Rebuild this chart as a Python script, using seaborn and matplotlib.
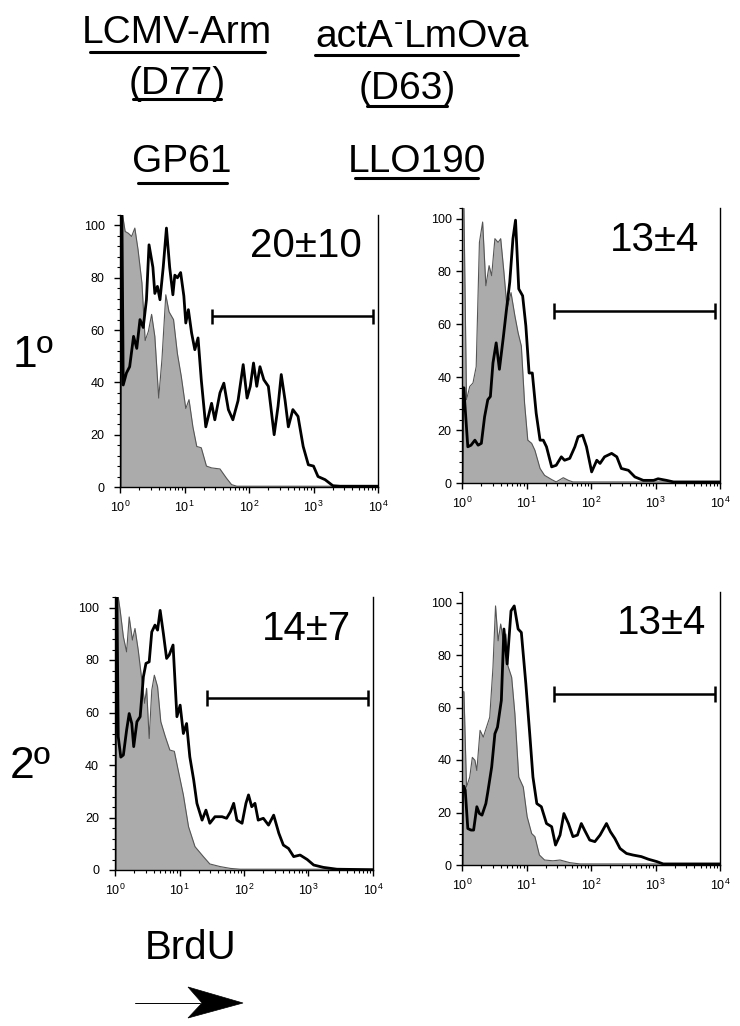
import numpy as np
import pandas as pd
import matplotlib
matplotlib.use('Agg')
import matplotlib.pyplot as plt
import seaborn as sns
from matplotlib.lines import Line2D
from matplotlib.patches import Polygon
from matplotlib.ticker import AutoMinorLocator, LogLocator

# ---------------- data (x = log10 BrdU intensity, y = % of max) ----------------
# top-left: LCMV-Arm GP61, 1o
p1_black_x = [0.00, 0.01, 0.03, 0.05, 0.10, 0.15, 0.21, 0.26, 0.31, 0.36, 0.41, 0.45, 0.51, 0.54, 0.58,
              0.62, 0.67, 0.72, 0.77, 0.82, 0.85, 0.89, 0.94, 0.99, 1.02, 1.06, 1.11, 1.16, 1.21, 1.26,
              1.33, 1.37, 1.42, 1.47, 1.55, 1.61, 1.68, 1.75, 1.83, 1.91, 1.97, 2.02, 2.07, 2.12, 2.17,
              2.23, 2.30, 2.39, 2.45, 2.50, 2.56, 2.61, 2.68, 2.76, 2.84, 2.92, 3.00, 3.07, 3.18, 3.30,
              3.41, 4.00]
p1_black_y = [0, 104, 104, 39, 43.6, 46, 57.6, 53, 64, 61, 71.6, 92.6, 84, 74, 76.7,
              71.6, 84, 99, 84, 73.5, 81, 80, 82, 73, 62.7, 67.8, 58.9, 52.5, 57, 41,
              23, 27, 32, 25.7, 36, 39.7, 29.6, 25.7, 33, 46.8, 34, 38.5, 47.4, 38.5, 46,
              41, 38.5, 20, 30.8, 43, 33, 23, 29.6, 27, 15.5, 8.5, 8, 4, 2.8, 0.5,
              0.3, 0.3]
p1_gray_x = [0.00, 0.01, 0.04, 0.08, 0.13, 0.18, 0.23, 0.28, 0.34, 0.39, 0.44, 0.49, 0.54, 0.60, 0.65,
             0.71, 0.76, 0.83, 0.89, 0.95, 1.02, 1.07, 1.13, 1.19, 1.26, 1.34, 1.42, 1.55, 1.65, 1.73,
             1.81, 4.00]
p1_gray_y = [0, 104, 104, 97.7, 97, 95.8, 99, 90.7, 78, 56, 59.5, 66, 57.6, 34, 48.7,
             73.5, 67, 64, 51, 42.3, 30, 33.4, 23, 15.5, 15, 8, 7.3, 6.9, 3.4, 0.9,
             0.3, 0.3]

# top-right: actA-LmOva LLO190, 1o
p2_black_x = [0.00, 0.01, 0.03, 0.04, 0.09, 0.14, 0.20, 0.25, 0.30, 0.35, 0.40, 0.44, 0.48, 0.53, 0.58,
              0.64, 0.69, 0.74, 0.79, 0.83, 0.88, 0.94, 0.99, 1.04, 1.09, 1.15, 1.21, 1.26, 1.31, 1.39,
              1.46, 1.54, 1.59, 1.67, 1.75, 1.80, 1.87, 1.93, 2.01, 2.09, 2.14, 2.21, 2.32, 2.40, 2.47,
              2.58, 2.68, 2.81, 2.97, 3.04, 3.17, 3.28, 4.00]
p2_black_y = [0, 36, 36, 31.5, 13.7, 14.3, 16.2, 14.3, 15, 25, 31.5, 32.7, 45.4, 53, 43,
              55, 65.7, 75.9, 92.4, 99.4, 73.4, 70.8, 59.4, 41.6, 41.6, 26.4, 16.2, 16.2, 13.7, 6.1,
              6.7, 9.9, 8.6, 9.3, 13.7, 17.5, 18.1, 13.7, 4.2, 8.6, 7.4, 9.9, 11.2, 9.9, 5.5,
              4.8, 2.3, 1, 1, 1.6, 1, 0.4, 0.4]
p2_gray_x = [0.00, 0.005, 0.03, 0.07, 0.12, 0.17, 0.22, 0.27, 0.32, 0.37, 0.42, 0.46, 0.51, 0.56, 0.60,
             0.65, 0.70, 0.76, 0.82, 0.87, 0.92, 0.97, 1.02, 1.08, 1.13, 1.21, 1.28, 1.39, 1.46, 1.57,
             1.65, 1.72, 4.00]
p2_gray_y = [0, 104, 104, 31.5, 36.5, 37.8, 44, 91, 98.7, 74.6, 82.2, 78.4, 92.4, 91, 92.4,
             79.7, 65.7, 72, 63.2, 56.8, 51.8, 30.2, 16.2, 15, 12.4, 5.5, 2.9, 1.3, 0.4, 2,
             1, 0.4, 0.4]

# bottom-left: LCMV-Arm GP61, 2o
p3_black_x = [0.00, 0.01, 0.03, 0.05, 0.09, 0.13, 0.18, 0.22, 0.26, 0.29, 0.34, 0.39, 0.44, 0.48, 0.53,
              0.57, 0.62, 0.66, 0.70, 0.75, 0.80, 0.84, 0.90, 0.96, 1.01, 1.06, 1.11, 1.16, 1.22, 1.27,
              1.35, 1.41, 1.47, 1.55, 1.66, 1.73, 1.79, 1.84, 1.89, 1.97, 2.03, 2.07, 2.12, 2.17, 2.22,
              2.30, 2.38, 2.46, 2.54, 2.61, 2.69, 2.77, 2.87, 2.98, 3.08, 3.23, 3.44, 4.00]
p3_black_y = [0, 104, 104, 50.8, 43, 43.8, 53.3, 59.6, 55.8, 47, 56.5, 58.4, 73.6, 78.7, 79.3,
              90.7, 93.3, 91.4, 98.9, 90.1, 80.6, 81.9, 85.7, 58.4, 62.8, 52, 55.8, 43.1, 34.3, 25.4,
              19, 22.8, 17.8, 20.3, 20.3, 19.7, 22.2, 25.4, 19, 17.8, 25.4, 28.6, 24.1, 25.4, 19,
              19.7, 17.1, 20.9, 14, 9.5, 8.2, 5.1, 5.7, 4, 1.9, 1, 0.3, 0.1]
p3_gray_x = [0.00, 0.005, 0.05, 0.08, 0.13, 0.18, 0.22, 0.27, 0.31, 0.36, 0.41, 0.46, 0.49, 0.53, 0.57,
             0.61, 0.66, 0.71, 0.78, 0.85, 0.92, 0.98, 1.06, 1.14, 1.24, 1.37, 1.47, 1.63, 1.79, 1.94,
             4.00]
p3_gray_y = [0, 104, 104, 98.9, 88.8, 83.1, 96.4, 87.6, 92, 83.8, 73.6, 63.5, 69.2, 50.1, 68.5,
             74.2, 69.8, 56.5, 50.8, 45.7, 45.2, 38, 28.6, 16.5, 8.9, 5.1, 2.3, 1.3, 0.6, 0.3,
             0.3]

# bottom-right: actA-LmOva LLO190, 2o
p4_black_x = [0.00, 0.01, 0.03, 0.05, 0.09, 0.14, 0.18, 0.23, 0.27, 0.31, 0.37, 0.40, 0.46, 0.51, 0.55,
              0.61, 0.65, 0.70, 0.76, 0.81, 0.87, 0.92, 0.99, 1.05, 1.10, 1.16, 1.23, 1.31, 1.39, 1.45,
              1.52, 1.58, 1.65, 1.72, 1.79, 1.85, 1.90, 1.98, 2.06, 2.14, 2.24, 2.30, 2.37, 2.45, 2.55,
              2.65, 2.78, 2.89, 3.02, 3.12, 4.00]
p4_black_y = [0, 30, 30, 28.5, 13.9, 13.3, 13.3, 22.2, 19.6, 19, 23.4, 27.8, 37.3, 50, 52.5,
              62.7, 89.9, 76.6, 96.8, 98.7, 89.9, 88.6, 69, 50, 33.5, 23.4, 22.2, 15.8, 14.6, 7.6,
              11.4, 19.6, 15.8, 10.8, 11.4, 15.8, 13.3, 9.5, 8.9, 11.4, 15.8, 12.7, 10.1, 6.3, 4.4,
              3.8, 3.2, 2.2, 1.3, 0.4, 0.4]
p4_gray_x = [0.00, 0.005, 0.03, 0.07, 0.12, 0.16, 0.20, 0.23, 0.28, 0.33, 0.38, 0.43, 0.48, 0.52, 0.56,
             0.60, 0.64, 0.68, 0.71, 0.77, 0.82, 0.88, 0.95, 1.01, 1.08, 1.13, 1.20, 1.28, 1.41, 1.52,
             1.67, 1.83, 4.00]
p4_gray_y = [0, 66, 66, 29.7, 33.5, 41, 39.9, 36, 51.3, 48.7, 52.5, 56.3, 75.3, 98.7, 85.4,
             91.8, 85.4, 88, 76, 71.5, 57.6, 33.5, 29.7, 18.4, 12, 10.8, 3.8, 1.9, 1.6, 1.9,
             0.9, 0.4, 0.4]

# gates: (log10 start, log10 end, y level) and labels
gates = [(1.43, 3.92, 65.2), (1.42, 3.92, 65.1), (1.42, 3.92, 65.4), (1.42, 3.92, 65.2)]
gate_labels = ['20\u00b110', '13\u00b14', '14\u00b17', '13\u00b14']
label_x = [2.89, 2.99, 2.97, 3.09]

# ---------------- styling ----------------
sns.set_style('ticks')
plt.rcParams['font.family'] = ['Liberation Sans', 'DejaVu Sans']
plt.rcParams['mathtext.default'] = 'regular'
plt.rcParams['text.color'] = 'black'
plt.rcParams['xtick.color'] = 'black'
plt.rcParams['ytick.color'] = 'black'
plt.rcParams['axes.edgecolor'] = 'black'

W, H = 740, 1026
fig = plt.figure(figsize=(W / 100, H / 100), dpi=100)

# axes boxes in pixels: left, right, y-bottom(y=0), y-top
boxes = [(120, 378, 487, 215), (462, 720, 483, 208), (115, 373, 870, 597), (462, 720, 865, 592)]
ypads = [7, 3.5, 7.5, 3.5]
curves = [(p1_black_x, p1_black_y, p1_gray_x, p1_gray_y),
          (p2_black_x, p2_black_y, p2_gray_x, p2_gray_y),
          (p3_black_x, p3_black_y, p3_gray_x, p3_gray_y),
          (p4_black_x, p4_black_y, p4_gray_x, p4_gray_y)]

for i, (l, r, b, t) in enumerate(boxes):
    ax = fig.add_axes([l / W, 1 - b / H, (r - l) / W, (b - t) / H])
    bx, by, gx, gy = curves[i]
    gxv = np.power(10.0, np.array(gx))
    bxv = np.power(10.0, np.array(bx))
    # shaded control histogram
    ax.fill_between(gxv, 0, gy, color='#ababab', lw=0, zorder=1)
    sns.lineplot(x=gxv, y=gy, ax=ax, color='#555555', lw=0.8, sort=False, estimator=None, zorder=2)
    # BrdU histogram
    df = pd.DataFrame({'x': bxv, 'y': by})
    sns.lineplot(data=df, x='x', y='y', ax=ax, color='black', lw=2.0, sort=False, estimator=None, zorder=3)

    # gate
    g0, g1, gy_ = gates[i]
    ax.hlines(gy_, 10 ** g0, 10 ** g1, color='black', lw=1.8, zorder=4)
    ax.vlines([10 ** g0, 10 ** g1], gy_ - 3, gy_ + 3, color='black', lw=1.8, zorder=4)
    ax.text(10 ** label_x[i], 92, gate_labels[i], fontsize=29, ha='center', va='center')

    ax.set_xscale('log')
    ax.set_xlim(1, 1e4)
    ax.set_ylim(0, 104)
    ax.set_yticks([0, 20, 40, 60, 80, 100])
    ax.yaxis.set_minor_locator(AutoMinorLocator(5))
    ax.xaxis.set_major_locator(LogLocator(base=10, numticks=10))
    ax.xaxis.set_minor_locator(LogLocator(base=10, subs=np.arange(2, 10), numticks=20))
    ax.set_xlabel('')
    ax.set_ylabel('')
    ax.spines['top'].set_visible(False)
    for s in ['left', 'right', 'bottom']:
        ax.spines[s].set_linewidth(1.0)
    ax.tick_params(axis='both', which='major', length=4, width=1, labelsize=9)
    ax.tick_params(axis='x', which='major', pad=5.5)
    ax.tick_params(axis='y', which='major', pad=ypads[i])
    ax.tick_params(axis='both', which='minor', length=2.5, width=0.8)


def px(x, y):
    return x / W, 1 - y / H


def uline(x0, x1, y, lw=2.2):
    fig.add_artist(Line2D([x0 / W, x1 / W], [1 - y / H, 1 - y / H], color='black', lw=lw))


# column headers
fig.text(*px(177, 43), 'LCMV-Arm', fontsize=28, ha='center', va='baseline')
uline(90, 265, 52)
fig.text(*px(177, 94), '(D77)', fontsize=28, ha='center', va='baseline')
uline(133, 221, 99)
fig.text(*px(182, 172), 'GP61', fontsize=28, ha='center', va='baseline')
uline(138, 227, 183)

# actA(superscript hyphen)LmOva built from pieces
renderer = fig.canvas.get_renderer()
t_a = fig.text(*px(315, 47), 'actA', fontsize=28, ha='left', va='baseline')
bb = t_a.get_window_extent(renderer)
t_h = fig.text((bb.x1 + 1) / W, 1 - 30 / H, '-', fontsize=20, ha='left', va='baseline')
bb2 = t_h.get_window_extent(renderer)
fig.text((bb2.x1 + 1) / W, 1 - 47 / H, 'LmOva', fontsize=28, ha='left', va='baseline')
uline(315, 518, 55)
fig.text(*px(407, 99), '(D63)', fontsize=28, ha='center', va='baseline')
uline(367, 447, 106)
fig.text(*px(417, 172), 'LLO190', fontsize=28, ha='center', va='baseline')
uline(355, 478, 178)

# row labels
fig.text(*px(33, 355), '1\u00ba', fontsize=32, ha='center', va='center')
fig.text(*px(30, 766), '2\u00ba', fontsize=32, ha='center', va='center')

# BrdU arrow
fig.text(*px(191, 948), 'BrdU', fontsize=29, ha='center', va='center')
fig.add_artist(Line2D([135 / W, 200 / W], [1 - 1003 / H, 1 - 1003 / H], color='black', lw=0.7))
head = [px(188, 987), px(243, 1003), px(188, 1018), px(202, 1003)]
fig.add_artist(Polygon(head, closed=True, transform=fig.transFigure, facecolor='black', edgecolor='black', lw=0.5))

fig.savefig('out.png', dpi=100)
